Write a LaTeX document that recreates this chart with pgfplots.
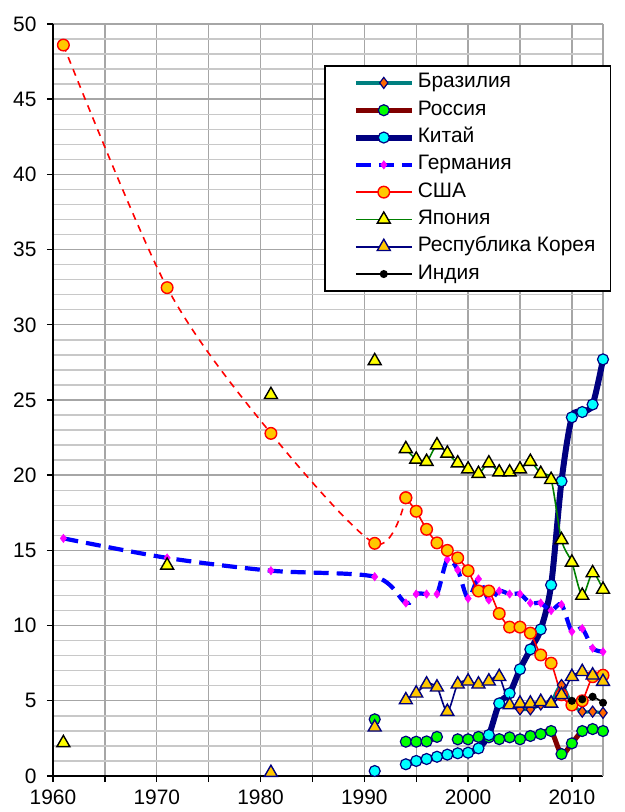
\documentclass[border=0pt]{standalone}
\usepackage{fontspec}
\setmainfont{Liberation Sans}
\usepackage{pgfplots}
\pgfplotsset{compat=1.18}
\definecolor{cTeal}{HTML}{008080}
\definecolor{cMaroon}{HTML}{800000}
\definecolor{cNavy}{HTML}{000080}
\definecolor{cLime}{HTML}{00FF00}
\definecolor{cCyan}{HTML}{00FFFF}
\definecolor{cBlue}{HTML}{0000FF}
\definecolor{cMag}{HTML}{FF00FF}
\definecolor{cRed}{HTML}{FF0000}
\definecolor{cGold}{HTML}{FFC800}
\definecolor{cOrange}{HTML}{FF6600}
\definecolor{cGreen}{HTML}{008000}
\definecolor{cYellow}{HTML}{FFFF00}
\definecolor{gridMajor}{HTML}{A6A6A6}
\definecolor{gridMinor}{HTML}{C8C8C8}
\begin{document}
\begin{tikzpicture}
\path[use as bounding box] (-53bp,-36bp) rectangle (572bp,776bp);
\begin{axis}[
  at={(0,0)}, anchor=south west,
  scale only axis, width=550bp, height=752bp,
  xmin=1960, xmax=2013, ymin=0, ymax=50,
  clip=false,
  axis x line*=bottom, axis y line*=left,
  axis line style={-, black, line width=1.6bp},
  xtick={1960,1965,...,2010},
  xticklabels={1960,,1970,,1980,,1990,,2000,,2010},
  extra x ticks={2013}, extra x tick labels={},
  extra x tick style={major tick length=0pt, grid=major},
  ytick={0,5,...,50},
  minor ytick={0,1,...,50},
  xmajorgrids, ymajorgrids, yminorgrids,
  major grid style={gridMajor, line width=1.4bp},
  minor grid style={gridMinor, line width=1.4bp},
  tick align=outside,
  major tick length=6bp, minor tick length=0pt,
  tick style={black, line width=1.4bp},
  /pgf/number format/assume math mode=true,
  /pgf/number format/1000 sep={},
  tick label style={font=\fontsize{21}{21}\selectfont},
  xticklabel style={yshift=-7bp, inner ysep=1bp},
  yticklabel style={xshift=-7bp},
  legend cell align=left,
  legend style={at={(0.4927,0.9455)}, anchor=north west,
    draw=black, line width=1.6bp, fill=white,
    font=\fontsize{21}{21}\selectfont,
    inner xsep=12bp, inner ysep=3.5bp, row sep=0pt,
    nodes={text height=14bp, text depth=4bp, inner ysep=4.65bp, inner xsep=3bp}},
  legend image code/.code={
    \path (-16bp,0bp);
    \draw[mark repeat=2,mark phase=2] plot coordinates {(0bp,0bp) (28bp,0bp) (56bp,0bp)};
  },
  unbounded coords=jump,
]
% Бразилия
\addplot[cTeal, line width=3.2bp, smooth, tension=0.5, mark=diamond*, mark size=5.5bp,
  mark options={solid, fill=cOrange, draw=cNavy, line width=1.2bp}]
  coordinates {(2005,4.43) (2006,4.43) (2007,4.75) (2008,4.95) (2009,6.05) (2010,4.8) (2011,4.28) (2012,4.28) (2013,4.2)};
\addlegendentry{Бразилия}
% Россия
\addplot[cMaroon, line width=5bp, smooth, tension=0.5, mark=*, mark size=5.5bp,
  mark options={solid, fill=cLime, draw=cNavy, line width=1.2bp}]
  coordinates {(1994,2.28) (1995,2.28) (1996,2.3) (1997,2.6) (1998,nan) (1999,2.44) (2000,2.44) (2001,2.6) (2002,2.57) (2003,2.45) (2004,2.57) (2005,2.44) (2006,2.66) (2007,2.79) (2008,2.99) (2009,1.46) (2010,2.17) (2011,2.99) (2012,3.12) (2013,2.99)};
\addlegendentry{Россия}
% Китай
\addplot[cNavy, line width=6bp, smooth, tension=0.5, mark=*, mark size=5.5bp,
  mark options={solid, fill=cCyan, draw=cNavy, line width=1.2bp}]
  coordinates {(1994,0.78) (1995,1.0) (1996,1.13) (1997,1.28) (1998,1.42) (1999,1.51) (2000,1.55) (2001,1.84) (2002,2.73) (2003,4.83) (2004,5.5) (2005,7.1) (2006,8.42) (2007,9.75) (2008,12.7) (2009,19.6) (2010,23.85) (2011,24.2) (2012,24.7) (2013,27.7)};
\addlegendentry{Китай}
% Германия
\addplot[cBlue, line width=4.2bp, dash pattern=on 15bp off 8bp, smooth, tension=0.5, mark=diamond*, mark size=4.2bp,
  mark options={solid, fill=cMag, draw=cMag, line width=0.5bp}]
  coordinates {(1961,15.8) (1971,14.5) (1981,13.65) (1991,13.25) (1994,11.5) (1995,12.1) (1996,12.1) (1997,12.1) (1998,14.4) (1999,13.7) (2000,11.8) (2001,13.1) (2002,11.7) (2003,12.3) (2004,12.1) (2005,12.1) (2006,11.5) (2007,11.5) (2008,11.0) (2009,11.4) (2010,9.6) (2011,9.8) (2012,8.5) (2013,8.26)};
\addlegendentry{Германия}
% США
\addplot[cRed, line width=1.6bp, dash pattern=on 7bp off 6bp, smooth, tension=0.5, mark=*, mark size=5.8bp,
  mark options={solid, fill=cGold, draw=cRed, line width=1.4bp}, forget plot]
  coordinates {(1961,48.6) (1971,32.47) (1981,22.78) (1991,15.47) (1994,18.5)};
\addplot[cRed, line width=1.6bp, smooth, tension=0.5, mark=*, mark size=5.8bp,
  mark options={solid, fill=cGold, draw=cRed, line width=1.4bp}]
  coordinates {(1994,18.5) (1995,17.6) (1996,16.4) (1997,15.5) (1998,15.0) (1999,14.5) (2000,13.65) (2001,12.3) (2002,12.3) (2003,10.8) (2004,9.9) (2005,9.9) (2006,9.5) (2007,8.05) (2008,7.5) (2009,5.4) (2010,4.72) (2011,5.0) (2012,6.6) (2013,6.7)};
\addlegendentry{США}
% Япония
\addplot[cGreen, line width=1.6bp, smooth, tension=0.5, mark=triangle*, mark size=7.5bp,
  mark options={solid, fill=cYellow, draw=black, line width=1.4bp}]
  coordinates {(1994,21.75) (1995,21.05) (1996,20.9) (1997,22.0) (1998,21.45) (1999,20.8) (2000,20.4) (2001,20.1) (2002,20.8) (2003,20.2) (2004,20.2) (2005,20.4) (2006,20.9) (2007,20.1) (2008,19.7) (2009,15.7) (2010,14.2) (2011,12.0) (2012,13.5) (2013,12.4)};
\addlegendentry{Япония}
% Республика Корея
\addplot[cNavy, line width=1.6bp, smooth, tension=0.5, mark=triangle*, mark size=7.5bp,
  mark options={solid, fill=cGold, draw=cNavy, line width=1.4bp}]
  coordinates {(1994,5.05) (1995,5.5) (1996,6.1) (1997,5.9) (1998,4.28) (1999,6.1) (2000,6.3) (2001,6.1) (2002,6.3) (2003,6.6) (2004,4.72) (2005,4.83) (2006,4.83) (2007,4.94) (2008,4.83) (2009,5.39) (2010,6.6) (2011,6.93) (2012,6.7) (2013,6.27)};
\addlegendentry{Республика Корея}
% Индия
\addplot[black, line width=1.6bp, smooth, tension=0.5, mark=*, mark size=3.2bp,
  mark options={solid, fill=black, draw=black}]
  coordinates {(2010,5.0) (2011,5.1) (2012,5.27) (2013,4.87)};
\addlegendentry{Индия}
% isolated early points
\addplot[only marks, mark=*, mark size=5.5bp, mark options={fill=cLime, draw=cNavy, line width=1.2bp}, forget plot]
  coordinates {(1991,3.77)};
\addplot[only marks, mark=*, mark size=5.5bp, mark options={fill=cCyan, draw=cNavy, line width=1.2bp}, forget plot]
  coordinates {(1991,0.33)};
\addplot[only marks, mark=triangle*, mark size=7.5bp, mark options={fill=cYellow, draw=black, line width=1.4bp}, forget plot]
  coordinates {(1961,2.2) (1971,14.0) (1981,25.35) (1991,27.6)};
\addplot[only marks, mark=triangle*, mark size=7.5bp, mark options={fill=cGold, draw=cNavy, line width=1.4bp}, forget plot]
  coordinates {(1981,0.22) (1991,3.24)};
\end{axis}
\end{tikzpicture}
\end{document}
